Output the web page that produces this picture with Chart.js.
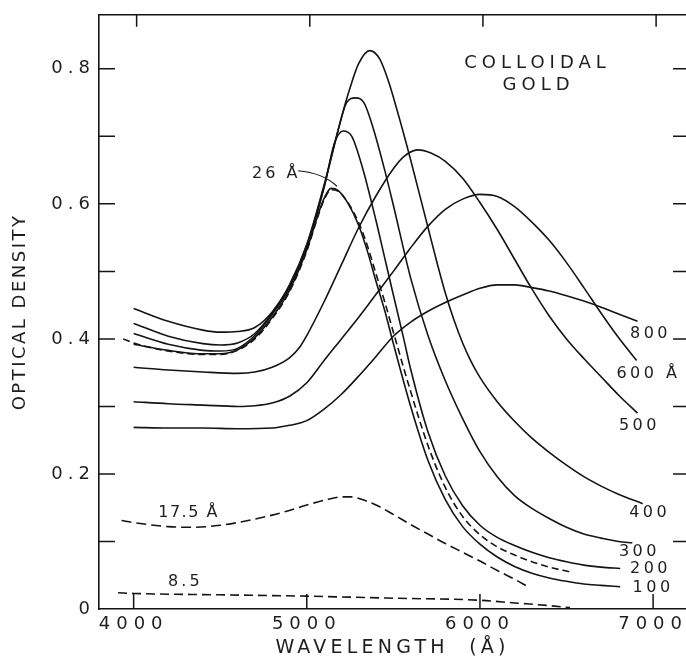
<!DOCTYPE html>
<html>
<head>
<meta charset="utf-8">
<title>Colloidal gold</title>
<script src="https://cdn.jsdelivr.net/npm/chart.js@4.4.1/dist/chart.umd.min.js"></script>
<style>
  html, body { margin: 0; padding: 0; background: #fff; overflow: hidden; }
</style>
</head>
<body>
<canvas id="goldChart" width="686" height="659"></canvas>
<script>
// Optical density vs wavelength (Å) for gold particles of different sizes
const od800 = [[4000, .269], [4200, .268], [4400, .268], [4600, .267], [4800, .268], [4900, .272], [5000, .279], [5100, .296], [5200, .318], [5300, .345], [5400, .374], [5500, .404], [5600, .425], [5700, .441], [5800, .454], [5900, .465], [6000, .475], [6100, .480], [6200, .480], [6300, .476], [6400, .471], [6500, .464], [6600, .456], [6700, .447], [6800, .437], [6910, .426]];
const od600 = [[4000, .307], [4200, .304], [4400, .302], [4600, .300], [4700, .301], [4800, .305], [4900, .315], [5000, .335], [5100, .368], [5200, .400], [5300, .432], [5400, .466], [5500, .500], [5600, .535], [5700, .567], [5800, .592], [5900, .607], [6000, .614], [6100, .611], [6200, .596], [6300, .573], [6400, .546], [6500, .513], [6600, .476], [6700, .438], [6800, .402], [6905, .368]];
const od500 = [[4000, .358], [4200, .354], [4400, .351], [4600, .349], [4700, .351], [4800, .358], [4900, .372], [4960, .388], [5000, .405], [5100, .455], [5200, .510], [5300, .565], [5400, .612], [5500, .652], [5560, .670], [5640, .680], [5720, .675], [5800, .663], [5900, .638], [6000, .602], [6100, .562], [6200, .518], [6300, .474], [6400, .434], [6500, .400], [6600, .371], [6700, .344], [6800, .317], [6910, .290]];
const od400 = [[4000, .445], [4200, .426], [4400, .413], [4500, .410], [4600, .411], [4700, .417], [4800, .440], [4900, .480], [5000, .540], [5100, .628], [5200, .728], [5250, .772], [5300, .808], [5364, .827], [5420, .815], [5470, .783], [5520, .740], [5600, .665], [5700, .565], [5750, .515], [5800, .468], [5850, .428], [5900, .394], [5950, .366], [6000, .343], [6100, .307], [6200, .278], [6300, .253], [6400, .232], [6500, .213], [6600, .196], [6700, .182], [6800, .170], [6940, .156]];
const od300 = [[4000, .423], [4200, .404], [4400, .393], [4500, .391], [4600, .394], [4700, .408], [4800, .438], [4900, .478], [5000, .538], [5100, .626], [5180, .708], [5230, .750], [5280, .757], [5330, .750], [5380, .715], [5450, .650], [5500, .598], [5600, .490], [5700, .405], [5800, .338], [5900, .282], [6000, .233], [6100, .196], [6200, .168], [6300, .149], [6400, .134], [6500, .121], [6600, .111], [6700, .105], [6800, .100], [6880, .098]];
const od200 = [[4000, .408], [4200, .392], [4400, .383], [4500, .382], [4600, .386], [4700, .405], [4800, .436], [4900, .476], [5000, .536], [5100, .624], [5160, .690], [5210, .708], [5260, .700], [5320, .655], [5400, .575], [5450, .520], [5500, .465], [5560, .400], [5600, .355], [5700, .262], [5800, .197], [5900, .153], [6000, .124], [6100, .106], [6200, .094], [6300, .084], [6400, .076], [6500, .070], [6600, .065], [6700, .062], [6810, .060]];
const od100 = [[4000, .392], [4200, .383], [4400, .378], [4500, .378], [4600, .384], [4700, .402], [4800, .432], [4900, .472], [5000, .532], [5060, .580], [5100, .608], [5140, .623], [5180, .620], [5240, .600], [5300, .568], [5350, .530], [5400, .485], [5450, .442], [5500, .393], [5600, .300], [5700, .220], [5800, .162], [5900, .122], [6000, .096], [6100, .077], [6200, .063], [6300, .053], [6400, .046], [6500, .041], [6600, .037], [6700, .035], [6810, .033]];
const od26 = [[3940, .400], [4000, .394], [4200, .382], [4400, .377], [4500, .377], [4600, .383], [4700, .400], [4800, .430], [4900, .470], [5000, .530], [5060, .578], [5100, .606], [5140, .621], [5180, .619], [5240, .601], [5300, .572], [5350, .538], [5400, .496], [5450, .455], [5500, .410], [5600, .322], [5700, .242], [5800, .180], [5900, .137], [6000, .110], [6100, .092], [6200, .080], [6300, .070], [6400, .062], [6520, .055]];
const od17 = [[3930, .131], [4000, .128], [4200, .122], [4350, .121], [4500, .124], [4600, .128], [4800, .139], [4900, .146], [5000, .154], [5100, .161], [5200, .166], [5260, .166], [5320, .162], [5400, .154], [5500, .140], [5600, .125], [5700, .111], [5800, .097], [5900, .084], [6000, .071], [6100, .057], [6200, .044], [6270, .034]];
const od8 = [[3910, .024], [4000, .023], [4500, .021], [5000, .019], [5500, .016], [6000, .013], [6200, .009], [6400, .005], [6520, .002]];

const xTicks = [4000, 5000, 6000, 7000];
const yTicks = [0, 0.1, 0.2, 0.3, 0.4, 0.5, 0.6, 0.7, 0.8];
const yLabels = ['0', '0.2', '0.4', '0.6', '0.8'];

const ink = '#141414';
const textInk = '#1e1e1e';
const family = "'DejaVu Sans', sans-serif";

function curve(label, pts, dash) {
  return {
    label: label,
    data: pts.map(p => ({ x: p[0], y: p[1] })),
    borderColor: ink,
    borderWidth: 1.6,
    borderDash: dash || [],
    pointRadius: 0,
    fill: false,
    cubicInterpolationMode: 'monotone'
  };
}

// text placed next to the curves, in data coordinates
const notes = [
  { text: 'COLLOIDAL', x: 6318, y: 0.808, size: 18, ls: 5 },
  { text: 'GOLD', x: 6324, y: 0.775, size: 18, ls: 5 },
  { text: '26 Å', x: 4815, y: 0.645, size: 16, ls: 3 },
  { text: '17.5 Å', x: 4313, y: 0.143, size: 16, ls: 1.5 },
  { text: '8.5', x: 4290, y: 0.040, size: 16, ls: 3 },
  { text: '800', x: 6975, y: 0.408, size: 16, ls: 3.5 },
  { text: '600 Å', x: 6963, y: 0.349, size: 16, ls: 3.5 },
  { text: '500', x: 6911, y: 0.271, size: 16, ls: 3.5 },
  { text: '400', x: 6970, y: 0.142, size: 16, ls: 3.5 },
  { text: '300', x: 6911, y: 0.084, size: 16, ls: 3.5 },
  { text: '200', x: 6975, y: 0.059, size: 16, ls: 3.5 },
  { text: '100', x: 6990, y: 0.031, size: 16, ls: 3.5 }
];

// letter spacing for the axis lettering (canvas state, set around Chart.js draws)
const axisSpacing = { x: { labels: '6px', title: '4.2px' }, y: { labels: '5px', title: '2.5px' } };

const fixedTicks = values => s => { s.ticks = values.map(v => ({ value: v })); };

const framePlugin = {
  id: 'frame',
  afterLayout(chart) {
    Object.keys(axisSpacing).forEach(id => {
      const s = chart.scales[id];
      if (s._spaced) return;
      s._spaced = true;
      [['drawLabels', 'labels'], ['drawTitle', 'title']].forEach(([fn, key]) => {
        const orig = s[fn];
        s[fn] = function () {
          const c = this.ctx;
          const prev = c.letterSpacing;
          c.letterSpacing = axisSpacing[id][key];
          orig.apply(this, arguments);
          c.letterSpacing = prev;
        };
      });
    });
  },
  afterDraw(chart) {
    const { ctx, chartArea: a, scales: { x, y } } = chart;
    ctx.save();
    ctx.strokeStyle = ink;
    ctx.lineWidth = 1.5;
    ctx.beginPath();
    // tick marks point inward on all four sides
    xTicks.forEach(v => {
      const px = x.getPixelForValue(v);
      ctx.moveTo(px, a.bottom); ctx.lineTo(px, a.bottom - 15);
      ctx.moveTo(px + 3, a.top); ctx.lineTo(px + 3, a.top + 12);
    });
    yTicks.slice(1).forEach(v => {
      const py = y.getPixelForValue(v);
      ctx.moveTo(a.left, py); ctx.lineTo(a.left + 16, py);
      ctx.moveTo(a.right, py); ctx.lineTo(a.right - 13, py);
    });
    ctx.stroke();

    // leader from the 26 Å label to its peak
    ctx.lineWidth = 1.1;
    ctx.beginPath();
    ctx.moveTo(x.getPixelForValue(4950), y.getPixelForValue(0.649));
    ctx.quadraticCurveTo(x.getPixelForValue(5090), y.getPixelForValue(0.646),
                         x.getPixelForValue(5175), y.getPixelForValue(0.626));
    ctx.stroke();

    ctx.fillStyle = textInk;
    ctx.textAlign = 'center';
    ctx.textBaseline = 'middle';
    notes.forEach(n => {
      ctx.font = n.size + 'px ' + family;
      ctx.letterSpacing = n.ls + 'px';
      ctx.fillText(n.text, x.getPixelForValue(n.x) + n.ls / 2, y.getPixelForValue(n.y));
    });
    ctx.restore();
  }
};

const hiddenAxis = {
  grid: { display: false, drawTicks: false },
  ticks: { display: false }
};

new Chart(document.getElementById('goldChart'), {
  type: 'line',
  data: {
    datasets: [
      curve('800', od800),
      curve('600', od600),
      curve('500', od500),
      curve('400', od400),
      curve('300', od300),
      curve('200', od200),
      curve('100', od100),
      curve('26', od26, [7, 4]),
      curve('17.5', od17, [10, 5]),
      curve('8.5', od8, [9, 5])
    ]
  },
  options: {
    responsive: false,
    animation: false,
    devicePixelRatio: 1,
    layout: { padding: { top: 14, right: 0, bottom: 0, left: 0 } },
    plugins: { legend: { display: false }, tooltip: { enabled: false } },
    scales: {
      x: {
        type: 'linear',
        position: 'bottom',
        min: 3800,
        max: 7190,
        afterBuildTicks: fixedTicks(xTicks),
        afterFit: s => { s.height = 50; },
        grid: { display: false, drawTicks: false },
        border: { display: true, color: ink, width: 1.6 },
        ticks: {
          autoSkip: false,
          maxRotation: 0,
          padding: 5,
          color: textInk,
          font: { family: family, size: 18 },
          callback: v => String(v)
        },
        title: {
          display: true,
          text: 'WAVELENGTH  (Å)',
          color: textInk,
          font: { family: family, size: 19 },
          padding: { top: 0, bottom: 0 }
        }
      },
      xTop: Object.assign({
        type: 'linear', position: 'top', min: 3800, max: 7190,
        afterFit: s => { s.height = 0; },
        border: { display: true, color: ink, width: 1.6 }
      }, hiddenAxis),
      y: {
        type: 'linear',
        position: 'left',
        min: 0,
        max: 0.88,
        afterBuildTicks: fixedTicks(yTicks),
        afterFit: s => { s.width = 99; },
        grid: { display: false, drawTicks: false },
        border: { display: true, color: ink, width: 1.6 },
        ticks: {
          autoSkip: false,
          padding: 4,
          color: textInk,
          font: { family: family, size: 18 },
          callback: v => {
            const k = Math.round(v * 10);
            return k % 2 === 0 ? yLabels[k / 2] : '';
          }
        },
        title: {
          display: true,
          text: 'OPTICAL DENSITY',
          color: textInk,
          font: { family: family, size: 18 },
          padding: { top: 10, bottom: 0 }
        }
      },
      yRight: Object.assign({
        type: 'linear', position: 'right', min: 0, max: 0.88,
        afterFit: s => { s.width = 0; },
        border: { display: false }
      }, hiddenAxis)
    }
  },
  plugins: [framePlugin]
});
</script>
</body>
</html>
